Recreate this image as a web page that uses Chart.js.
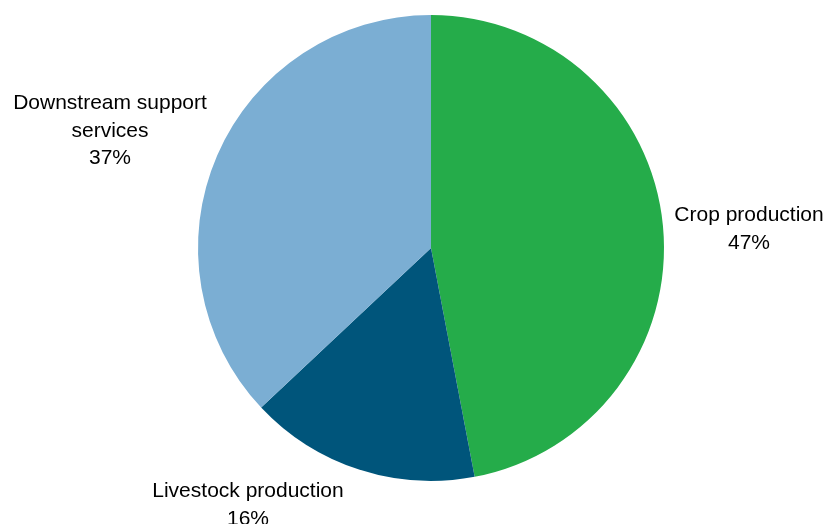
<!DOCTYPE html>
<html>
<head>
<meta charset="utf-8">
<script src="https://cdn.jsdelivr.net/npm/chart.js@4.4.1/dist/chart.umd.min.js"></script>
<style>
  html, body { margin: 0; padding: 0; background: #fff; }
  #wrap { width: 826px; height: 524px; position: relative; }
</style>
</head>
<body>
<div id="wrap"><canvas id="pieChart" width="826" height="524"></canvas></div>
<script>
// Parts du secteur, en pourcentage
const categories = ['Crop production', 'Livestock production', 'Downstream support services'];
const shares = [47, 16, 37];
const labelLines = [['Crop production'], ['Livestock production'], ['Downstream support', 'services']];
const colors = ['#25AC4A', '#00557B', '#7BAED3'];

// Décalage des étiquettes par rapport au centre du camembert (x, y du centre du bloc de texte)
const labelOffsets = [[318, -19], [-183, 257], [-321, -117]];

const outsideLabels = {
    id: 'outsideLabels',
    afterDatasetsDraw(chart) {
        const ctx = chart.ctx;
        const meta = chart.getDatasetMeta(0);
        ctx.save();
        ctx.font = '21px "Liberation Sans", Arial, sans-serif';
        ctx.fillStyle = '#000';
        ctx.textAlign = 'center';
        ctx.textBaseline = 'middle';
        const lineH = 27.5;
        meta.data.forEach((arc, i) => {
            const lines = labelLines[i].concat([shares[i] + '%']);
            const cx = arc.x + labelOffsets[i][0];
            const cy = arc.y + labelOffsets[i][1];
            const top = cy - (lines.length - 1) * lineH / 2;
            lines.forEach((t, j) => ctx.fillText(t, cx, top + j * lineH));
        });
        ctx.restore();
    }
};

const ctx = document.getElementById('pieChart').getContext('2d');
new Chart(ctx, {
    type: 'pie',
    data: {
        labels: categories,
        datasets: [{
            data: shares,
            backgroundColor: colors,
            borderWidth: 0
        }]
    },
    options: {
        responsive: false,
        animation: false,
        layout: { padding: { top: 15, bottom: 43, left: 198, right: 162 } },
        plugins: {
            legend: { display: false },
            tooltip: { enabled: false }
        }
    },
    plugins: [outsideLabels]
});
</script>
</body>
</html>
